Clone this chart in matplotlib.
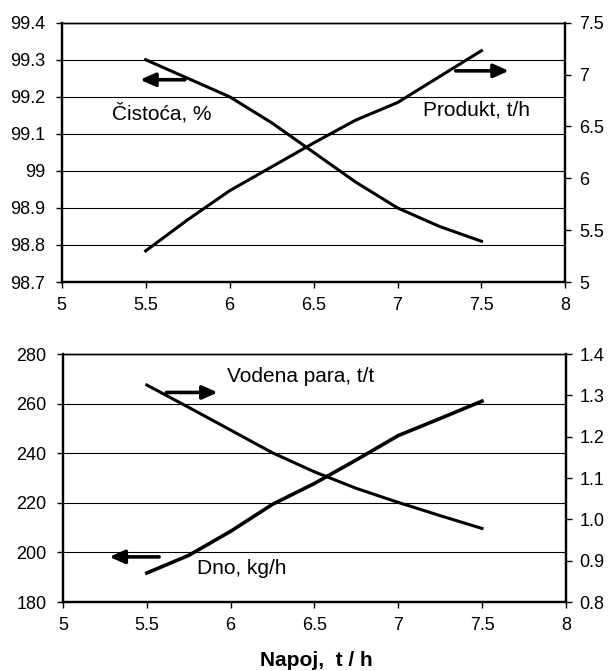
import numpy as np
import matplotlib
matplotlib.use('Agg')
import matplotlib.pyplot as plt

plt.rcParams['font.family'] = ['Liberation Sans', 'DejaVu Sans']

# --- data ---
napoj = [5.5, 5.75, 6.0, 6.25, 6.5, 6.75, 7.0, 7.25, 7.5]
cistoca = [99.30, 99.25, 99.20, 99.13, 99.05, 98.97, 98.90, 98.85, 98.81]
produkt = [5.30, 5.60, 5.88, 6.11, 6.34, 6.56, 6.73, 6.98, 7.23]
dno = [191.7, 198.8, 208.5, 219.4, 227.8, 237.3, 247.1, 254.0, 261.0]
vodena_para = [1.325, 1.271, 1.216, 1.161, 1.115, 1.075, 1.041, 1.009, 0.978]

x_ticks = [5, 5.5, 6, 6.5, 7, 7.5, 8]
x_labels = ['5', '5.5', '6', '6.5', '7', '7.5', '8']
top_left_ticks = [98.7, 98.8, 98.9, 99, 99.1, 99.2, 99.3, 99.4]
top_left_labels = ['98.7', '98.8', '98.9', '99', '99.1', '99.2', '99.3', '99.4']
top_right_ticks = [5, 5.5, 6, 6.5, 7, 7.5]
top_right_labels = ['5', '5.5', '6', '6.5', '7', '7.5']
bot_left_ticks = [180, 200, 220, 240, 260, 280]
bot_right_ticks = [0.8, 0.9, 1.0, 1.1, 1.2, 1.3, 1.4]
bot_right_labels = ['0.8', '0.9', '1.0', '1.1', '1.2', '1.3', '1.4']

fig = plt.figure(figsize=(6.08, 6.71), dpi=100)
ax1 = fig.add_axes([0.1015, 0.5797, 0.8285, 0.3865])
ax2 = fig.add_axes([0.1036, 0.1028, 0.827, 0.3696])

def style(ax, twin):
    ax.set_xlim(5, 8)
    ax.set_xticks(x_ticks)
    ax.set_xticklabels(x_labels)
    ax.grid(axis='y', color='black', lw=0.8)
    ax.set_axisbelow(True)
    for a in (ax, twin):
        for s in a.spines.values():
            s.set_color('black')
            s.set_linewidth(1.0)
        a.spines['left'].set_linewidth(1.6)
        a.spines['right'].set_linewidth(1.6)
        a.spines['bottom'].set_linewidth(1.6)
        a.tick_params(direction='out', length=4, width=1, labelsize=13, colors='black')
    ax.tick_params(axis='x', pad=7)
    ax.tick_params(axis='y', pad=8)
    twin.tick_params(axis='y', pad=6)

arrow = dict(arrowstyle='-|>,head_length=0.9,head_width=0.4', lw=2.6, color='black')

# --- top panel ---
t1 = ax1.twinx()
ax1.plot(napoj, cistoca, color='black', lw=2.2)
t1.plot(napoj, produkt, color='black', lw=2.2)
ax1.set_ylim(98.7, 99.4)
ax1.set_yticks(top_left_ticks)
ax1.set_yticklabels(top_left_labels)
t1.set_ylim(5, 7.5)
t1.set_yticks(top_right_ticks)
t1.set_yticklabels(top_right_labels)
style(ax1, t1)
ax1.annotate('', xy=(5.45, 99.246), xytext=(5.75, 99.246), arrowprops=arrow)
ax1.annotate('', xy=(7.68, 99.27), xytext=(7.33, 99.27), arrowprops=arrow)
ax1.text(5.30, 99.155, 'Čistoća, %', fontsize=15, va='center')
ax1.text(7.15, 99.165, 'Produkt, t/h', fontsize=15, va='center')

# --- bottom panel ---
t2 = ax2.twinx()
ax2.plot(napoj, dno, color='black', lw=2.6)
t2.plot(napoj, vodena_para, color='black', lw=2.2)
ax2.set_ylim(180, 280)
ax2.set_yticks(bot_left_ticks)
t2.set_ylim(0.8, 1.4)
t2.set_yticks(bot_right_ticks)
t2.set_yticklabels(bot_right_labels)
style(ax2, t2)
ax2.annotate('', xy=(5.94, 264.5), xytext=(5.60, 264.5), arrowprops=arrow)
ax2.annotate('', xy=(5.26, 198.2), xytext=(5.59, 198.2), arrowprops=arrow)
ax2.text(5.98, 270.8, 'Vodena para, t/t', fontsize=15, va='center')
ax2.text(5.80, 193.5, 'Dno, kg/h', fontsize=15, va='center')

fig.text(0.52, 0.015, 'Napoj,  t / h', fontsize=15, fontweight='bold', ha='center', va='center')

fig.savefig('out.png', dpi=100)
